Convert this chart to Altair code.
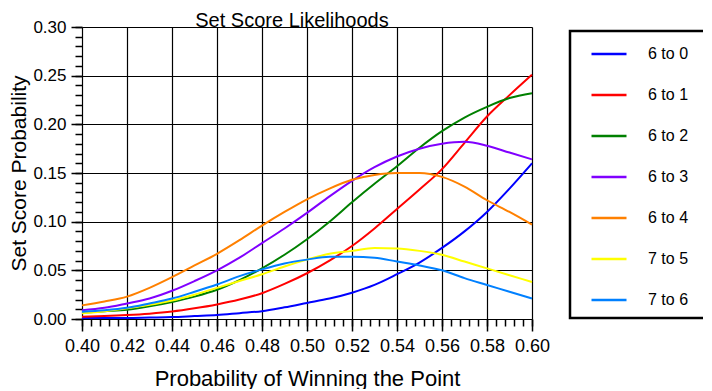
import altair as alt
import pandas as pd

# x values: probability of winning the point
p = [0.40, 0.41, 0.42, 0.43, 0.44, 0.45, 0.46, 0.47, 0.48, 0.49, 0.50,
     0.51, 0.52, 0.53, 0.54, 0.55, 0.56, 0.57, 0.58, 0.59, 0.60]

s_6_0 = [0.001, 0.001, 0.001, 0.0015, 0.002, 0.003, 0.004, 0.006, 0.008, 0.012, 0.0165,
         0.021, 0.027, 0.035, 0.046, 0.058, 0.073, 0.090, 0.110, 0.134, 0.160]
s_6_1 = [0.0024, 0.003, 0.004, 0.0055, 0.0077, 0.011, 0.015, 0.020, 0.0265, 0.036, 0.047,
         0.060, 0.075, 0.093, 0.113, 0.133, 0.154, 0.181, 0.208, 0.230, 0.251]
s_6_2 = [0.0065, 0.008, 0.0095, 0.013, 0.0175, 0.023, 0.030, 0.040, 0.052, 0.066, 0.082,
         0.100, 0.120, 0.139, 0.157, 0.176, 0.193, 0.207, 0.218, 0.227, 0.232]
s_6_3 = [0.009, 0.0115, 0.016, 0.021, 0.029, 0.039, 0.050, 0.063, 0.078, 0.093, 0.109,
         0.126, 0.142, 0.156, 0.167, 0.175, 0.180, 0.182, 0.178, 0.171, 0.164]
s_6_4 = [0.014, 0.018, 0.023, 0.032, 0.043, 0.055, 0.067, 0.081, 0.096, 0.110, 0.123,
         0.134, 0.143, 0.148, 0.150, 0.150, 0.146, 0.136, 0.122, 0.110, 0.097]
s_7_5 = [0.006, 0.008, 0.011, 0.0145, 0.019, 0.025, 0.032, 0.039, 0.046, 0.054, 0.061,
         0.067, 0.070, 0.073, 0.0725, 0.070, 0.066, 0.059, 0.052, 0.045, 0.038]
s_7_6 = [0.0075, 0.009, 0.0115, 0.016, 0.021, 0.028, 0.0355, 0.044, 0.051, 0.057, 0.061,
         0.064, 0.064, 0.063, 0.059, 0.055, 0.050, 0.042, 0.035, 0.028, 0.021]

series_names = ["6 to 0", "6 to 1", "6 to 2", "6 to 3", "6 to 4", "7 to 5", "7 to 6"]
series_vals = [s_6_0, s_6_1, s_6_2, s_6_3, s_6_4, s_7_5, s_7_6]
colors = ["#0000FF", "#FF0000", "#008000", "#8000FF", "#FF8000", "#FFFF00", "#0080FF"]

x_major = [0.40, 0.42, 0.44, 0.46, 0.48, 0.50, 0.52, 0.54, 0.56, 0.58, 0.60]
y_major = [0.00, 0.05, 0.10, 0.15, 0.20, 0.25, 0.30]
x_minor = [round(0.40 + 0.004 * i, 4) for i in range(51)]
y_minor = [round(0.01 * i, 4) for i in range(31)]

rows = []
for name, vals in zip(series_names, series_vals):
    for xv, yv in zip(p, vals):
        rows.append({"p": xv, "prob": yv, "score": name})
df = pd.DataFrame(rows)

W, H = 450, 292
FONT = "Liberation Sans"

xscale = alt.Scale(domain=[0.40, 0.60], nice=False, zero=False)
yscale = alt.Scale(domain=[0.0, 0.30], nice=False)

base = alt.Chart(df)

lines = base.mark_line(strokeWidth=2, interpolate="monotone").encode(
    x=alt.X("p:Q", scale=xscale,
            axis=alt.Axis(values=x_major, format=".2f", grid=True, gridColor="black",
                          gridWidth=1.2, gridOpacity=1, tickSize=12, tickWidth=1.5,
                          tickColor="black", labelPadding=6, labelFontSize=18,
                          labelColor="black", labelFont=FONT, domain=False,
                          labelOverlap=False, labelFlush=False,
                          orient="bottom",
                          title="Probability of Winning the Point", titleFontSize=22,
                          titleFont=FONT, titleFontWeight="normal", titleColor="black",
                          titleX=225, titleY=66, titleBaseline="alphabetic",
                          titleAlign="center")),
    y=alt.Y("prob:Q", scale=yscale,
            axis=alt.Axis(values=y_major, format=".2f", grid=True, gridColor="black",
                          gridWidth=1.2, gridOpacity=1, tickSize=11, tickWidth=1.5,
                          tickColor="black", labelPadding=5, labelFontSize=17,
                          labelColor="black", labelFont=FONT, domain=False,
                          labelOverlap=False, labelFlush=False,
                          orient="left",
                          title="Set Score Probability", titleFontSize=21,
                          titleFont=FONT, titleFontWeight="normal", titleColor="black",
                          titleAngle=-90, titleX=-57, titleY=146,
                          titleBaseline="alphabetic", titleAlign="center")),
    color=alt.Color("score:N", scale=alt.Scale(domain=series_names, range=colors),
                    legend=alt.Legend(title=None, orient="none", legendX=508, legendY=8,
                                      symbolType="stroke", symbolSize=1225,
                                      symbolStrokeWidth=2.5, labelFontSize=16,
                                      labelFont=FONT, labelColor="black",
                                      labelOffset=20, rowPadding=14, padding=0)),
)

minor = base.mark_line(strokeOpacity=0).encode(
    x=alt.X("p:Q", scale=xscale,
            axis=alt.Axis(values=x_minor, labels=False, grid=False, tickSize=7,
                          tickWidth=1.5, tickColor="black", domain=False,
                          orient="bottom", title=None)),
    y=alt.Y("prob:Q", scale=yscale,
            axis=alt.Axis(values=y_minor, labels=False, grid=False, tickSize=7,
                          tickWidth=1.5, tickColor="black", domain=False,
                          orient="left", title=None)),
    detail="score:N",
)

box = alt.Chart(pd.DataFrame({"k": [0]})).mark_rect(
    fill="transparent", stroke="black", strokeWidth=2.5
).encode(
    x=alt.value(488), x2=alt.value(629), y=alt.value(4), y2=alt.value(291)
)

chart = alt.layer(minor, lines, box).resolve_axis(
    x="independent", y="independent"
).properties(
    width=W, height=H,
    title=alt.TitleParams("Set Score Likelihoods", fontSize=20, font=FONT,
                          fontWeight="normal", color="black", anchor="middle",
                          frame="group", dx=-15, offset=0, dy=29,
                          baseline="alphabetic"),
    autosize=alt.AutoSizeParams(type="none"),
    padding={"left": 74, "top": 19, "right": 171, "bottom": 70},
).configure_view(
    stroke="black", strokeWidth=2
).configure(background="white")

chart.save("out.html", embed_options={"renderer": "svg", "actions": False})
